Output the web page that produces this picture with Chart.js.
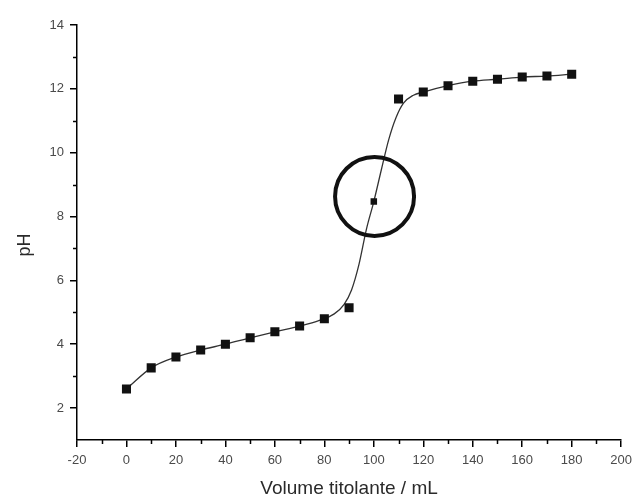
<!DOCTYPE html>
<html>
<head>
<meta charset="utf-8">
<script src="https://cdn.jsdelivr.net/npm/chart.js@4/dist/chart.umd.min.js"></script>
<style>
  html, body { margin:0; padding:0; background:#fff; }
  #wrap { width:638px; height:504px; }
</style>
</head>
<body>
<div id="wrap"><canvas id="c"></canvas></div>
<script>
// measured points (volume in mL, pH)
var volume = [0,10,20,30,40,50,60,70,80,90,100,110,120,130,140,150,160,170,180];
var pH     = [2.6,3.26,3.6,3.82,4.0,4.2,4.39,4.57,4.8,5.14,8.47,11.68,11.9,12.1,12.24,12.3,12.37,12.4,12.46];

// fitted curve
var curveX = [0,10,20,30,40,50,60,70,78,84,88,91,94,97,100,103,106,109,112,116,120,130,140,150,160,170,180];
var curveY = [2.6,3.26,3.6,3.82,4.0,4.2,4.39,4.57,4.75,4.95,5.25,5.7,6.5,7.6,8.47,9.45,10.4,11.1,11.55,11.8,11.9,12.1,12.24,12.3,12.37,12.4,12.46];

// equivalence point marker
var markX = [100.3];
var markY = [8.63];

var xTicks = [-20,0,20,40,60,80,100,120,140,160,180,200];
var yTicks = [2,4,6,8,10,12,14];

function pairs(xs, ys){
	var out = [];
	for(var i = 0; i < xs.length; i++){
		out.push({x: xs[i], y: ys[i]});
	}
	return out;
}

var fontFam = "'Liberation Sans', Arial, sans-serif";

// short minor ticks between the labelled ones
var minorTicks = {
	id: 'minorTicks',
	afterDraw: function(chart){
		var ctx = chart.ctx, xs = chart.scales.x, ys = chart.scales.y,
			area = chart.chartArea;
		ctx.save();
		ctx.strokeStyle = '#000';
		ctx.lineWidth = 1.5;
		ctx.beginPath();
		for(var i = 0; i < xTicks.length - 1; i++){
			var px = Math.round(xs.getPixelForValue((xTicks[i] + xTicks[i+1]) / 2)) + 0.5;
			ctx.moveTo(px, area.bottom);
			ctx.lineTo(px, area.bottom + 4);
		}
		for(var j = 0; j < yTicks.length - 1; j++){
			var py = Math.round(ys.getPixelForValue((yTicks[j] + yTicks[j+1]) / 2)) + 0.5;
			ctx.moveTo(area.left, py);
			ctx.lineTo(area.left - 4, py);
		}
		ctx.stroke();
		ctx.restore();
	}
};

new Chart(document.getElementById('c'), {
	type: 'scatter',
	data: {
		datasets: [
			{
				label: 'marker',
				data: pairs(markX, markY),
				pointStyle: 'circle',
				pointRadius: 39.5,
				pointBorderWidth: 4,
				pointBorderColor: '#111',
				pointBackgroundColor: 'rgba(0,0,0,0)',
				order: 0
			},
			{
				label: 'pH',
				data: pairs(volume, pH),
				pointStyle: 'rect',
				pointRadius: function(c){ return c.dataIndex === 10 ? 4.6 : 6.4; },
				pointBackgroundColor: '#111',
				pointBorderColor: '#111',
				pointBorderWidth: 0,
				showLine: false,
				order: 1
			},
			{
				label: 'fit',
				data: pairs(curveX, curveY),
				showLine: true,
				pointRadius: 0,
				borderColor: '#333',
				borderWidth: 1.3,
				cubicInterpolationMode: 'monotone',
				order: 2
			}
		]
	},
	options: {
		responsive: true,
		maintainAspectRatio: false,
		animation: false,
		layout: { autoPadding: false, padding: { top: 25, right: 16, left: 0, bottom: 0 } },
		plugins: {
			legend: { display: false },
			tooltip: { enabled: false }
		},
		scales: {
			x: {
				type: 'linear',
				min: -20, max: 200,
				afterFit: function(s){ s.height = 64; },
				afterBuildTicks: function(s){ s.ticks = xTicks.map(function(v){ return {value: v}; }); },
				border: { color: '#000', width: 1.5 },
				grid: { drawOnChartArea: false, drawTicks: true, tickLength: 7, color: '#000', lineWidth: 1.5 },
				ticks: { color: '#4a4a4a', padding: 6, maxRotation: 0, autoSkip: false, font: { family: fontFam, size: 13 } },
				title: { display: true, text: 'Volume titolante / mL', color: '#2a2a2a',
					padding: { top: 0, bottom: 4 }, font: { family: fontFam, size: 19 } }
			},
			y: {
				type: 'linear',
				min: 1, max: 14,
				afterFit: function(s){ s.width = 77; },
				afterBuildTicks: function(s){ s.ticks = yTicks.map(function(v){ return {value: v}; }); },
				border: { color: '#000', width: 1.5 },
				grid: { drawOnChartArea: false, drawTicks: true, tickLength: 7, color: '#000', lineWidth: 1.5 },
				ticks: { color: '#4a4a4a', padding: 6, font: { family: fontFam, size: 13 } },
				title: { display: true, text: 'pH\u00a0\u00a0\u00a0\u00a0\u00a0', color: '#2a2a2a',
					padding: { top: 14, bottom: 0 }, font: { family: fontFam, size: 18 } }
			}
		}
	},
	plugins: [minorTicks]
});
</script>
</body>
</html>
